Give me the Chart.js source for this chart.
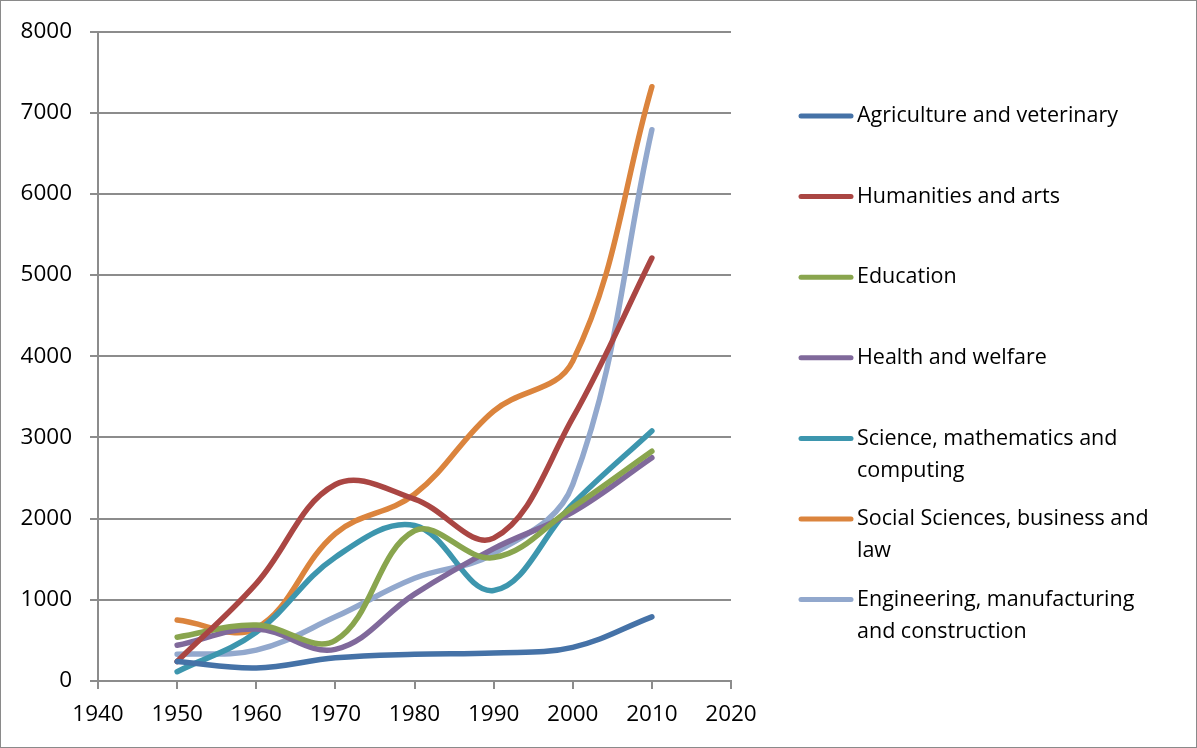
<!DOCTYPE html>
<html>
<head>
<meta charset="utf-8">
<script src="https://cdn.jsdelivr.net/npm/chart.js@4.4.1/dist/chart.umd.min.js"></script>
<style>
  html, body { margin: 0; padding: 0; background: #fff; }
  #wrap { width: 1197px; height: 748px; }
</style>
</head>
<body>
<div id="wrap"><canvas id="chart" width="1197" height="748"></canvas></div>
<script>
const years = [1950, 1960, 1970, 1980, 1990, 2000, 2010];
const xTicks = [1940, 1950, 1960, 1970, 1980, 1990, 2000, 2010, 2020];
const yTicks = [0, 1000, 2000, 3000, 4000, 5000, 6000, 7000, 8000];

const agriculture = [240, 160, 285, 330, 345, 415, 790];
const humanities = [240, 1200, 2420, 2240, 1760, 3240, 5210];
const education = [540, 690, 500, 1850, 1520, 2140, 2830];
const health = [440, 640, 390, 1070, 1630, 2080, 2750];
const science = [115, 600, 1525, 1915, 1115, 2180, 3080];
const social = [750, 650, 1815, 2300, 3325, 3940, 7320];
const engineering = [330, 380, 790, 1265, 1570, 2420, 6790];

const seriesNames = [
    ["Agriculture and veterinary"],
    ["Humanities and arts"],
    ["Education"],
    ["Health and welfare"],
    ["Science, mathematics and", "computing"],
    ["Social Sciences, business and", "law"],
    ["Engineering, manufacturing", "and construction"],
];
const seriesValues = [agriculture, humanities, education, health, science, social, engineering];
const seriesColors = ["#4572A7", "#AA4643", "#89A54E", "#80699B", "#3D96AE", "#DB843D", "#92A8CD"];

const FONT = "'Open Sans', 'Liberation Sans', sans-serif";
const gridColor = "#8c8c8c";

// legend on the right, drawn by hand so the long names can wrap
const sideLegend = {
    id: "sideLegend",
    afterDraw(chart) {
        const c = chart.ctx;
        c.save();
        c.font = "21.5px " + FONT;
        c.fillStyle = "#000";
        c.textBaseline = "middle";
        chart.data.datasets.forEach((ds, i) => {
            const y = 116 + i * 80.6;
            c.strokeStyle = ds.borderColor;
            c.lineWidth = 5;
            c.lineCap = "round";
            c.beginPath();
            c.moveTo(801, y);
            c.lineTo(851, y);
            c.stroke();
            seriesNames[i].forEach((line, j) => {
                c.fillText(line, 857, y + j * 32);
            });
        });
        // outer frame
        c.strokeStyle = "#8a8a8a";
        c.lineWidth = 1;
        c.strokeRect(0.5, 0.5, chart.width - 1, chart.height - 1);
        c.restore();
    },
};

new Chart(document.getElementById("chart"), {
    type: "line",
    data: {
        datasets: seriesValues.map((vals, i) => ({
            label: seriesNames[i].join(" "),
            data: years.map((yr, k) => ({ x: yr, y: vals[k] })),
            borderColor: seriesColors[i],
            backgroundColor: seriesColors[i],
            borderWidth: 5.5,
            borderCapStyle: "round",
            pointRadius: 0,
            tension: 0.38,
            fill: false,
        })),
    },
    options: {
        responsive: false,
        animation: false,
        layout: { padding: { top: 29, right: 466, left: 0, bottom: 0 } },
        plugins: {
            legend: { display: false },
            tooltip: { enabled: false },
        },
        scales: {
            x: {
                type: "linear",
                min: xTicks[0],
                max: xTicks[xTicks.length - 1],
                afterBuildTicks: (s) => { s.ticks = xTicks.map((v) => ({ value: v })); },
                afterFit: (s) => { s.height = 67; },
                border: { color: gridColor, width: 2 },
                grid: { drawOnChartArea: false, drawTicks: true, tickLength: 8, color: gridColor, lineWidth: 2 },
                ticks: { color: "#000", font: { family: FONT, size: 22.5 }, padding: 12, maxRotation: 0, callback: (v) => String(v) },
            },
            y: {
                min: yTicks[0],
                max: yTicks[yTicks.length - 1],
                afterBuildTicks: (s) => { s.ticks = yTicks.map((v) => ({ value: v })); },
                afterFit: (s) => { s.width = 98; },
                border: { color: gridColor, width: 2 },
                grid: { color: gridColor, lineWidth: 2, tickLength: 8 },
                ticks: { color: "#000", font: { family: FONT, size: 22.5 }, padding: 18, callback: (v) => String(v) },
            },
        },
    },
    plugins: [sideLegend],
});
</script>
</body>
</html>
